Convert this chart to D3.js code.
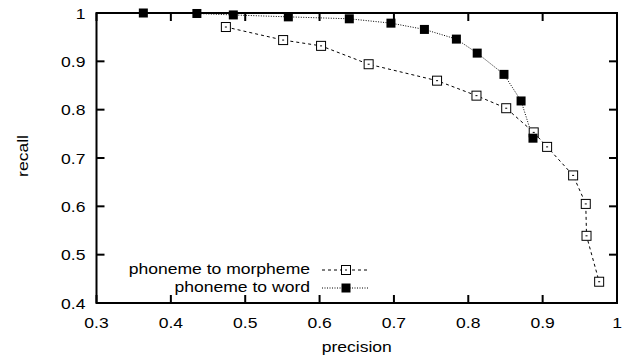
<!DOCTYPE html>
<html>
<head>
<meta charset="utf-8">
<script src="https://cdn.jsdelivr.net/npm/d3@7"></script>
<style>
  body { margin: 0; background: #fff; }
  text { font-family: "Liberation Sans", Arial, sans-serif; fill: #000; }
</style>
</head>
<body>
<div id="chart"></div>
<script>
// precision / recall for each model
const morphemePrecision = [0.474, 0.551, 0.602, 0.666, 0.758, 0.811, 0.851, 0.888, 0.906, 0.941, 0.958, 0.959, 0.976];
const morphemeRecall    = [0.971, 0.944, 0.932, 0.894, 0.860, 0.829, 0.803, 0.753, 0.723, 0.664, 0.605, 0.539, 0.444];
const wordPrecision = [0.363, 0.435, 0.484, 0.558, 0.640, 0.696, 0.741, 0.784, 0.812, 0.848, 0.871, 0.887];
const wordRecall    = [1.000, 0.999, 0.996, 0.992, 0.988, 0.979, 0.966, 0.946, 0.917, 0.873, 0.818, 0.741];
const xTicks = [0.3, 0.4, 0.5, 0.6, 0.7, 0.8, 0.9, 1];
const yTicks = [0.4, 0.5, 0.6, 0.7, 0.8, 0.9, 1];
const seriesNames = ["phoneme to morpheme", "phoneme to word"];

const width = 632, height = 360;
const margin = { left: 96.5, right: 15, top: 13, bottom: 57 };
const fontSize = 15;
const stretch = 1.17; // the original font is a bit wider than Liberation Sans

const svg = d3.select('#chart').append('svg')
  .attr('width', width)
  .attr('height', height);

const x = d3.scaleLinear().domain([0.3, 1]).range([margin.left, width - margin.right]);
const y = d3.scaleLinear().domain([0.4, 1]).range([height - margin.bottom, margin.top]);

const fmt = d => d === 1 ? "1" : d3.format(".1f")(d);
const tickLen = 8;

// place a label, stretched horizontally around its anchor
const label = (g, tx, ty, str, anchor, rot) => g.append('text')
  .attr('transform', `translate(${tx},${ty})` + (rot ? ` rotate(${rot})` : '') + ` scale(${stretch},1)`)
  .attr('text-anchor', anchor)
  .attr('font-size', fontSize)
  .text(str);

// ticks (inward on all four sides)
const ticks = svg.append('g').attr('stroke', '#000').attr('stroke-width', 2);
xTicks.forEach(t => {
  ticks.append('line').attr('x1', x(t)).attr('x2', x(t)).attr('y1', y(0.4)).attr('y2', y(0.4) - tickLen);
  ticks.append('line').attr('x1', x(t)).attr('x2', x(t)).attr('y1', y(1)).attr('y2', y(1) + tickLen);
});
yTicks.forEach(t => {
  ticks.append('line').attr('x1', x(0.3)).attr('x2', x(0.3) + tickLen).attr('y1', y(t)).attr('y2', y(t));
  ticks.append('line').attr('x1', x(1)).attr('x2', x(1) - tickLen).attr('y1', y(t)).attr('y2', y(t));
});

// tick labels
const tl = svg.append('g');
xTicks.forEach(t => label(tl, x(t), y(0.4) + 25, fmt(t), 'middle'));
yTicks.forEach(t => label(tl, x(0.3) - 11, y(t) + 5.5, fmt(t), 'end'));

// axis titles
label(svg, (x(0.3) + x(1)) / 2, 352, 'precision', 'middle');
label(svg, 28, 156, 'recall', 'middle', -90);

// series lines
const line = d3.line().x(d => x(d[0])).y(d => y(d[1]));
const morph = d3.zip(morphemePrecision, morphemeRecall);
const word = d3.zip(wordPrecision, wordRecall);

svg.append('path').datum(morph).attr('d', line)
  .attr('fill', 'none').attr('stroke', '#000').attr('stroke-width', 1)
  .attr('stroke-dasharray', '3,3');
svg.append('path').datum(word).attr('d', line)
  .attr('fill', 'none').attr('stroke', '#000').attr('stroke-width', 1)
  .attr('stroke-dasharray', '1,1.5');

// markers
const s = 9;
const openSquare = (g, cx, cy) => {
  g.append('rect').attr('x', cx - s / 2).attr('y', cy - s / 2).attr('width', s).attr('height', s)
    .attr('fill', '#fff').attr('stroke', '#000').attr('stroke-width', 1);
  g.append('rect').attr('x', cx - 1).attr('y', cy - 0.5).attr('width', 2).attr('height', 1).attr('fill', '#000');
};
const filledSquare = (g, cx, cy) => {
  g.append('rect').attr('x', cx - s / 2).attr('y', cy - s / 2).attr('width', s).attr('height', s)
    .attr('fill', '#000');
};
const mg = svg.append('g');
morph.forEach(d => openSquare(mg, x(d[0]), y(d[1])));
const wg = svg.append('g');
word.forEach(d => filledSquare(wg, x(d[0]), y(d[1])));

// frame
svg.append('rect')
  .attr('x', x(0.3)).attr('y', y(1))
  .attr('width', x(1) - x(0.3)).attr('height', y(0.4) - y(1))
  .attr('fill', 'none').attr('stroke', '#000').attr('stroke-width', 2);

// legend
const legendRows = [270, 288];
const lg = svg.append('g');
seriesNames.forEach((name, i) => {
  const ly = legendRows[i];
  label(lg, 310, ly + 4, name, 'end');
  lg.append('line').attr('x1', 322).attr('x2', 369).attr('y1', ly).attr('y2', ly)
    .attr('stroke', '#000').attr('stroke-width', 1)
    .attr('stroke-dasharray', i === 0 ? '3,3' : '1,1.5');
  if (i === 0) openSquare(lg, 346, ly); else filledSquare(lg, 346, ly);
});
</script>
</body>
</html>
